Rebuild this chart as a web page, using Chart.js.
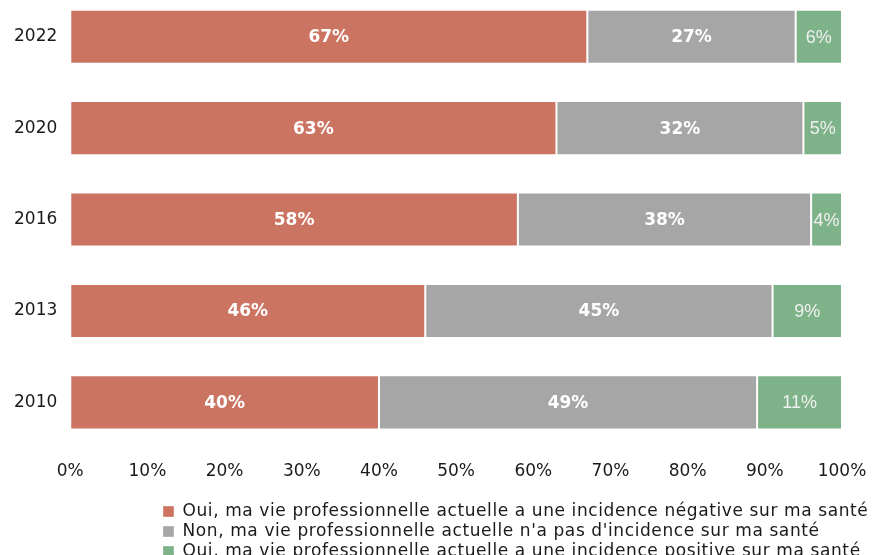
<!DOCTYPE html>
<html>
<head>
<meta charset="utf-8">
<script src="https://cdn.jsdelivr.net/npm/chart.js@4"></script>
<style>
  html, body { margin: 0; padding: 0; background: #fff; overflow: hidden; }
  #wrap { width: 880px; height: 555px; position: relative; overflow: hidden; }
  #inner { position: absolute; left: 0; top: -9px; width: 880px; height: 579px; }
</style>
</head>
<body>
<div id="wrap"><div id="inner"><canvas id="c"></canvas></div></div>
<script>
const categories = ['2022', '2020', '2016', '2013', '2010'];
const seriesNames = [
  "Oui, ma vie professionnelle actuelle a une incidence négative sur ma santé",
  "Non, ma vie professionnelle actuelle n'a pas d'incidence sur ma santé",
  "Oui, ma vie professionnelle actuelle a une incidence positive sur ma santé"
];
const negative = [67, 63, 58, 46, 40];
const neutral  = [27, 32, 38, 45, 49];
const positive = [6, 5, 4, 9, 11];
const xTicks = [0, 10, 20, 30, 40, 50, 60, 70, 80, 90, 100];

const colors = ['#CC7462', '#A6A6A6', '#7EB289'];

const labelPlugin = {
  id: 'barLabels',
  afterDatasetsDraw(chart) {
    const ctx = chart.ctx;
    ctx.save();
    ctx.textAlign = 'center';
    ctx.textBaseline = 'middle';
    chart.data.datasets.forEach((ds, i) => {
      const meta = chart.getDatasetMeta(i);
      meta.data.forEach((el, j) => {
        const v = ds.data[j];
        const x = (el.x + el.base) / 2;
        if (i === 2) {
          ctx.font = '18px "Liberation Sans"';
          ctx.fillStyle = '#F0F0F0';
        } else {
          ctx.font = 'bold 17px "DejaVu Sans"';
          ctx.fillStyle = '#FFFFFF';
        }
        ctx.fillText(v + '%', x, el.y + 1);
      });
    });
    ctx.restore();
  }
};

const legendTweak = {
  id: 'legendTweak',
  afterLayout(chart) {
    const lg = chart.legend;
    if (!lg) return;
    const dx = 159;
    lg.left += dx;
    lg.right += dx;
    if (!lg._spaced) {
      const orig = lg.draw.bind(lg);
      lg.draw = function () {
        const ctx = this.ctx;
        const prev = ctx.letterSpacing;
        ctx.letterSpacing = '0.6px';
        orig();
        ctx.letterSpacing = prev || '0px';
      };
      lg._spaced = true;
    }
  }
};

new Chart(document.getElementById('c'), {
  type: 'bar',
  data: {
    labels: categories,
    datasets: [
      { label: seriesNames[0], data: negative, backgroundColor: colors[0] },
      { label: seriesNames[1], data: neutral, backgroundColor: colors[1] },
      { label: seriesNames[2], data: positive, backgroundColor: colors[2] }
    ]
  },
  options: {
    indexAxis: 'y',
    responsive: true,
    maintainAspectRatio: false,
    animation: false,
    layout: { padding: { top: 0, right: 38, left: 1, bottom: 0 } },
    datasets: {
      bar: {
        categoryPercentage: 0.592,
        barPercentage: 1.0,
        borderWidth: 1,
        borderColor: 'rgba(255,255,255,0.35)',
        borderSkipped: false
      }
    },
    scales: {
      x: {
        stacked: true,
        min: 0,
        max: 100,
        afterBuildTicks(axis) { axis.ticks = xTicks.map(v => ({ value: v })); },
        afterFit(scale) { scale.height += 4.5; },
        grid: { display: false, drawTicks: false },
        border: { display: false },
        ticks: {
          padding: 13.5,
          color: '#1a1a1a',
          font: { family: '"DejaVu Sans"', size: 17 },
          callback: v => v + '%',
          maxRotation: 0,
          autoSkip: false
        }
      },
      y: {
        stacked: true,
        afterFit(scale) { scale.paddingTop = 0; scale.paddingBottom = 0; },
        grid: { display: false, drawTicks: false },
        border: { display: false },
        ticks: {
          padding: 13,
          color: '#1a1a1a',
          font: { family: '"DejaVu Sans"', size: 17 }
        }
      }
    },
    plugins: {
      legend: {
        position: 'bottom',
        align: 'start',
        labels: {
          boxWidth: 11,
          boxHeight: 11,
          padding: 3,
          color: '#1a1a1a',
          font: { family: '"DejaVu Sans"', size: 17 }
        }
      },
      tooltip: { enabled: false }
    }
  },
  plugins: [labelPlugin, legendTweak]
});
</script>
</body>
</html>
